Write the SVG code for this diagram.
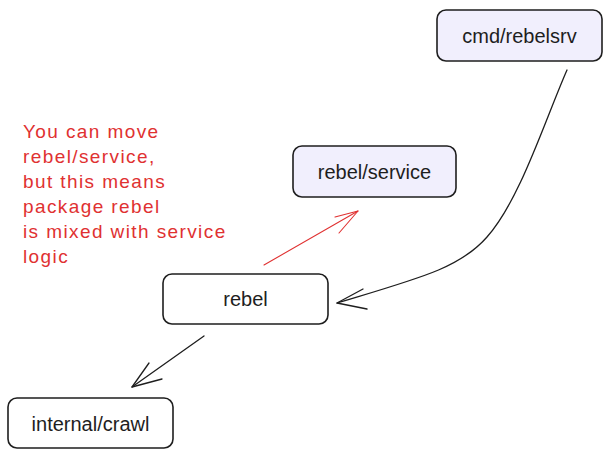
<svg xmlns="http://www.w3.org/2000/svg" width="611" height="458" viewBox="0 0 611 458">
<defs>
<style>
.box{stroke:#1e1e1e;stroke-width:1.6;}
.lav{fill:#f1effd;}
.wht{fill:#ffffff;}
.lbl{font-family:"Liberation Sans",Arial,sans-serif;font-size:20px;fill:#1e1e1e;text-anchor:middle;dominant-baseline:central;}
.note{font-family:"Liberation Sans",Arial,sans-serif;font-size:19px;letter-spacing:1.4px;fill:#e03131;}
.edge{fill:none;stroke:#1e1e1e;stroke-width:1.3;stroke-linecap:round;stroke-linejoin:round;}
.red{fill:none;stroke:#e03131;stroke-width:1.1;stroke-linecap:round;stroke-linejoin:round;}
</style>
</defs>
<rect width="611" height="458" fill="#ffffff"/>
<g id="node-cmd-rebelsrv">
<rect class="box lav" x="437" y="10" width="165" height="51" rx="9"/>
<text class="lbl" x="519.5" y="36">cmd/rebelsrv</text>
</g>
<g id="node-rebel-service">
<rect class="box lav" x="293" y="146" width="163" height="51" rx="9"/>
<text class="lbl" x="374.5" y="172">rebel/service</text>
</g>
<g id="node-rebel">
<rect class="box wht" x="163" y="274" width="165" height="50" rx="9"/>
<text class="lbl" x="245.5" y="299">rebel</text>
</g>
<g id="node-internal-crawl">
<rect class="box wht" x="8" y="398" width="165" height="50" rx="9"/>
<text class="lbl" x="90.5" y="424">internal/crawl</text>
</g>
<g id="note">
<text class="note" x="23" y="138">You can move</text>
<text class="note" x="23" y="163">rebel/service,</text>
<text class="note" x="23" y="188">but this means</text>
<text class="note" x="23" y="213">package rebel</text>
<text class="note" x="23" y="238">is mixed with service</text>
<text class="note" x="23" y="263">logic</text>
</g>
<g id="connectors">
<path class="edge" d="M567 70 C545 120 520 200 487 237 C460 268 420 278 337 303"/>
<path class="edge" d="M363 289 L337 303 L367 309"/>
<path class="red" d="M264 265 L358 211"/>
<path class="red" d="M335 217 L358 211 L339 233"/>
<path class="edge" d="M204 336 L132 387"/>
<path class="edge" d="M149 363 L132 387 L162 379"/>
</g>
</svg>
